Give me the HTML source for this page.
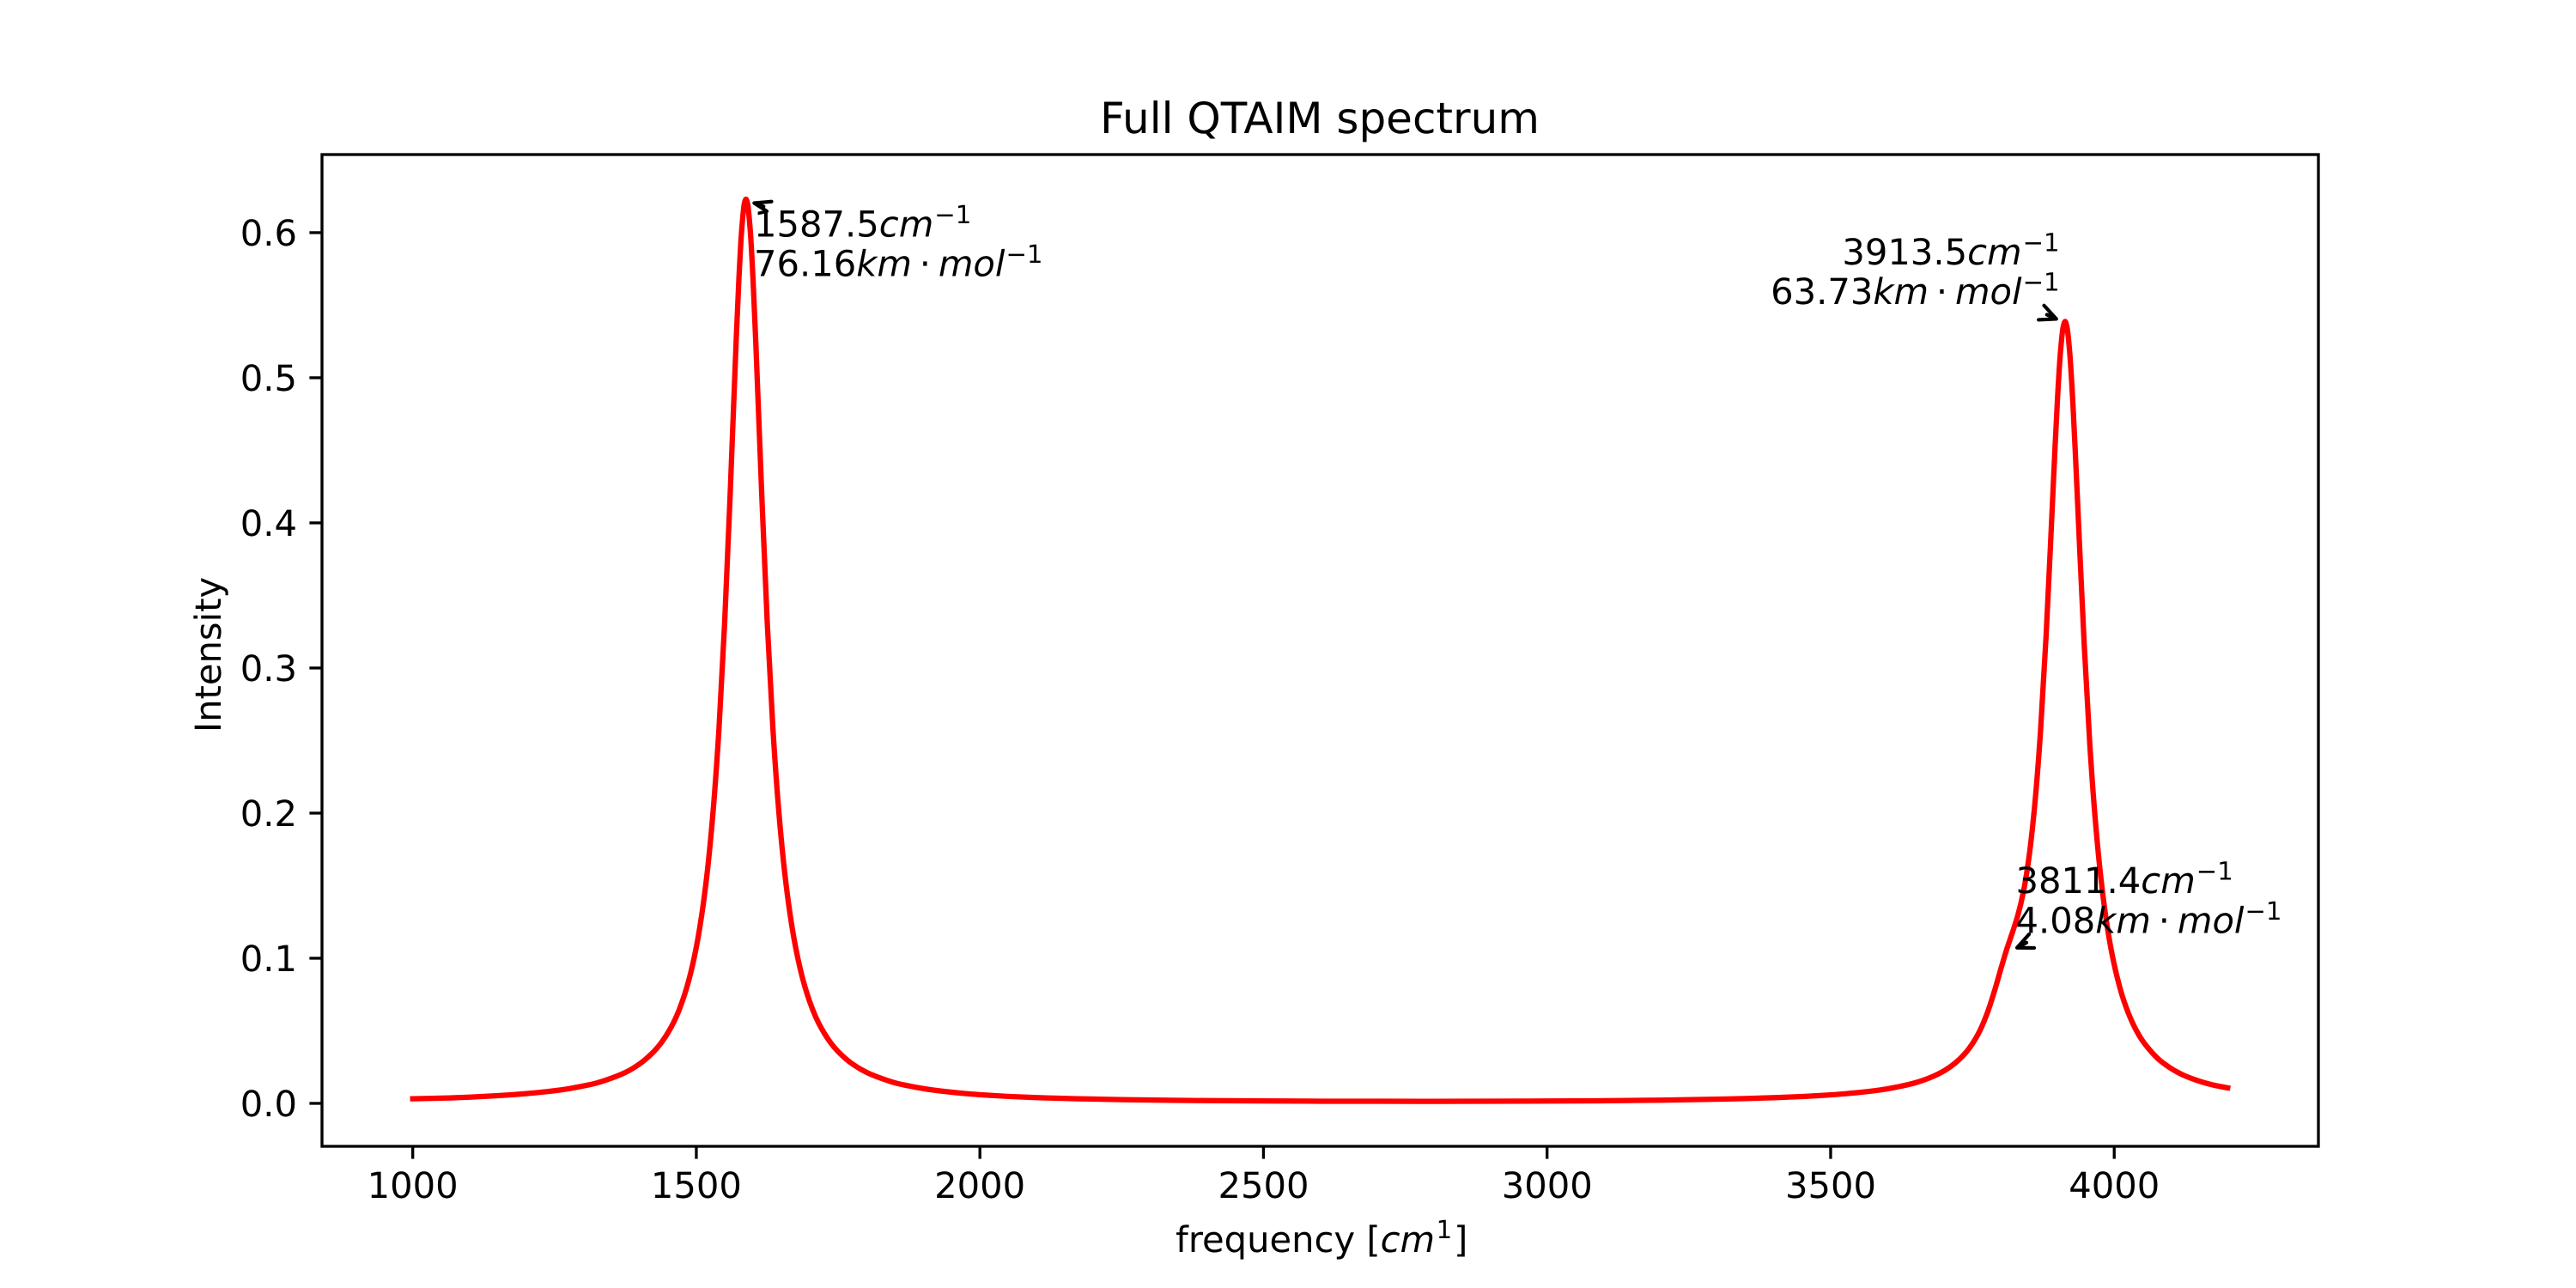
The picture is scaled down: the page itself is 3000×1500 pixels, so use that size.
<!DOCTYPE html>
<html lang="en">
<head>
<meta charset="utf-8">
<title>Full QTAIM spectrum</title>
<style>
  html, body { margin: 0; padding: 0; background: #fff; }
  svg { display: block; }
  text { font-family: "DejaVu Sans", "Liberation Sans", sans-serif; fill: #000; text-rendering: geometricPrecision; }
  .it { font-style: italic; }
</style>
</head>
<body>
<svg id="chart" xmlns="http://www.w3.org/2000/svg" width="3000" height="1500" viewBox="0 0 3000 1500">
  <rect x="0" y="0" width="3000" height="1500" fill="#fff"/>
  <g id="series-layer"></g>
  <rect x="375" y="180" width="2325" height="1155" fill="none" stroke="#000" stroke-width="3.33"/>
  <g id="x-axis"></g>
  <g id="y-axis"></g>
  <g id="annotation-layer"></g>
  <text x="1537" y="155" font-size="50" text-anchor="middle">Full QTAIM spectrum</text>
  <text x="1539.3" y="1458" font-size="41.67" text-anchor="middle">frequency [<tspan class="it">cm</tspan><tspan font-size="29.17" dy="-16" dx="1.5">1</tspan><tspan dy="16" dx="2">]</tspan></text>
  <text transform="translate(257 762.5) rotate(-90)" x="0" y="0" font-size="41.67" text-anchor="middle">Intensity</text>
</svg>
<script>
const frequencies = [1000,1050,1100,1150,1200,1250,1275,1300,1325,1350,1375,1400,1425,1437.5,1450,1460,1470,1480,1490,1500,1510,1520,1530,1540,1550,1560,1570,1575,1580,1585,1587.5,1590,1595,1600,1605,1615,1625,1635,1645,1655,1665,1675,1685,1695,1705,1715,1725,1737.5,1750,1775,1800,1825,1850,1875,1900,1925,2000,2100,2250,2400,2600,2800,3000,3200,3350,3450,3490,3525,3575,3600,3625,3650,3680,3700,3720,3740,3760,3775,3790,3800,3811,3820,3830,3840,3850,3860,3870,3880,3890,3895,3900,3905,3910,3913.5,3917,3922,3927,3932,3937,3947,3957,3967,3977,3987,3997,4010,4017,4025,4032,4040,4050,4060,4070,4080,4090,4100,4112,4125,4150,4175,4200];
const intensities = [0.0032,0.0036,0.0043,0.0053,0.0067,0.0087,0.0101,0.0119,0.0141,0.0173,0.0213,0.0272,0.0357,0.0414,0.0487,0.0558,0.0647,0.0758,0.0898,0.1077,0.1311,0.1619,0.2032,0.2585,0.3316,0.4231,0.5230,0.5676,0.6019,0.6207,0.6230,0.6207,0.6019,0.5676,0.5230,0.4231,0.3316,0.2585,0.2032,0.1619,0.1311,0.1077,0.0898,0.0758,0.0647,0.0558,0.0487,0.0414,0.0357,0.0272,0.0214,0.0174,0.0142,0.0120,0.0102,0.0088,0.0060,0.0040,0.0026,0.0019,0.0015,0.0014,0.0016,0.0022,0.0033,0.0047,0.0056,0.0066,0.0086,0.0100,0.0119,0.0143,0.0185,0.0224,0.0279,0.0358,0.0477,0.0610,0.0789,0.0925,0.1068,0.1172,0.1295,0.1460,0.1705,0.2062,0.2562,0.3230,0.4046,0.4467,0.4857,0.5166,0.5350,0.5388,0.5343,0.5150,0.4833,0.4434,0.4004,0.3167,0.2471,0.1936,0.1535,0.1236,0.1012,0.0797,0.0707,0.0621,0.0557,0.0495,0.0431,0.0380,0.0336,0.0298,0.0268,0.0241,0.0214,0.0189,0.0153,0.0126,0.0107];
const xTickValues = [1000,1500,2000,2500,3000,3500,4000];
const xTickLabels = ["1000","1500","2000","2500","3000","3500","4000"];
const yTickValues = [0,0.1,0.2,0.3,0.4,0.5,0.6];
const yTickLabels = ["0.0","0.1","0.2","0.3","0.4","0.5","0.6"];
const peakFrequencies = [1587.5,3913.5,3811.4];
const peakHeights = [0.623,0.5388,0.107];
const peakFrequencyLabels = ["1587.5","3913.5","3811.4"];
const peakIrLabels = ["76.16","63.73","4.08"];

const SVG_NS = "http://www.w3.org/2000/svg";
const plot = { left: 375, right: 2700, top: 180, bottom: 1335 };
const xDomain = [840, 4360];
const yDomain = [-0.0296, 0.6538];
function xScale(v) { return plot.left + (v - xDomain[0]) / (xDomain[1] - xDomain[0]) * (plot.right - plot.left); }
function yScale(v) { return plot.bottom - (v - yDomain[0]) / (yDomain[1] - yDomain[0]) * (plot.bottom - plot.top); }
function make(tag, attrs) {
  const el = document.createElementNS(SVG_NS, tag);
  for (const k in attrs) el.setAttribute(k, attrs[k]);
  return el;
}

/* shape-preserving cubic path through the pixel-mapped points */
function smoothPath(xs, ys) {
  const n = xs.length;
  const h = [], s = [], m = new Array(n);
  for (let i = 0; i < n - 1; i++) {
    h[i] = xs[i + 1] - xs[i];
    s[i] = (ys[i + 1] - ys[i]) / h[i];
  }
  m[0] = s[0];
  m[n - 1] = s[n - 2];
  for (let i = 1; i < n - 1; i++) {
    if (s[i - 1] * s[i] <= 0) { m[i] = 0; continue; }
    const w1 = 2 * h[i] + h[i - 1];
    const w2 = h[i] + 2 * h[i - 1];
    m[i] = (w1 + w2) / (w1 / s[i - 1] + w2 / s[i]);
  }
  let d = "M" + xs[0].toFixed(2) + " " + ys[0].toFixed(2);
  for (let i = 0; i < n - 1; i++) {
    d += "C" + (xs[i] + h[i] / 3).toFixed(2) + " " + (ys[i] + m[i] * h[i] / 3).toFixed(2) +
      " " + (xs[i + 1] - h[i] / 3).toFixed(2) + " " + (ys[i + 1] - m[i + 1] * h[i] / 3).toFixed(2) +
      " " + xs[i + 1].toFixed(2) + " " + ys[i + 1].toFixed(2);
  }
  return d;
}

const seriesLayer = document.getElementById("series-layer");
const spectrumLine = make("path", { d: smoothPath(frequencies.map(xScale), intensities.map(yScale)), fill: "none", stroke: "#ff0000", "stroke-width": 6.25, "stroke-linecap": "square", "stroke-linejoin": "round" });


seriesLayer.appendChild(spectrumLine);

const xAxis = document.getElementById("x-axis");
xTickValues.forEach((v, i) => {
  const x = xScale(v);
  const tick = make("line", { x1: x, x2: x, y1: plot.bottom, y2: plot.bottom + 14.6, stroke: "#000", "stroke-width": 3.33 });
  
  
  xAxis.appendChild(tick);
  const label = make("text", { x: x, y: 1395, "font-size": 41.67, "text-anchor": "middle" });
  
  
  label.textContent = xTickLabels[i];
  xAxis.appendChild(label);
});

const yAxis = document.getElementById("y-axis");
yTickValues.forEach((v, i) => {
  const y = yScale(v);
  const tick = make("line", { x1: plot.left - 14.6, x2: plot.left, y1: y, y2: y, stroke: "#000", "stroke-width": 3.33 });
  
  
  yAxis.appendChild(tick);
  const label = make("text", { x: 346, y: y + 15, "font-size": 41.67, "text-anchor": "end" });
  
  
  label.textContent = yTickLabels[i];
  yAxis.appendChild(label);
});

/* annotation layout, in pixels relative to each annotated peak */
const annotationLayout = [
  { anchor: "start", tx: 9.3, ty1: 43.4, ty2: 89.4, tip: [9.6, 4.4], barbA: [20.2, -1.7], barbB: [14.7, 9.5], shaft: [11, 4] },
  { anchor: "end", tx: -6.5, ty1: -66.6, ty2: -20.6, tip: [-10.3, -2.9], barbA: [-14.3, -15.7], barbB: [-20.7, 1], shaft: [-11, -5] },
  { anchor: "start", tx: 9.9, ty1: -64.2, ty2: -17.7, tip: [11.4, -0.4], barbA: [14, -15.7], barbB: [20, 0.2], shaft: [11, -6] }
];

function appendSpan(parent, text, attrs) {
  const span = make("tspan", attrs);
  span.textContent = text;
  parent.appendChild(span);
}

const annotationLayer = document.getElementById("annotation-layer");
peakFrequencies.forEach((f, i) => {
  const px = xScale(f);
  const py = yScale(peakHeights[i]);
  const lay = annotationLayout[i];

  const line1 = make("text", { x: px + lay.tx, y: py + lay.ty1, "font-size": 41.67, "text-anchor": lay.anchor });
  
  
  appendSpan(line1, peakFrequencyLabels[i], {});
  appendSpan(line1, "cm", { class: "it" });
  appendSpan(line1, "\u22121", { "font-size": 29.17, dy: -15.5, dx: 1 });
  annotationLayer.appendChild(line1);

  const line2 = make("text", { x: px + lay.tx, y: py + lay.ty2, "font-size": 41.67, "text-anchor": lay.anchor });
  
  
  appendSpan(line2, peakIrLabels[i], {});
  appendSpan(line2, "km", { class: "it" });
  appendSpan(line2, "\u00b7", { dx: 8.8 });
  appendSpan(line2, "mol", { class: "it", dx: 8.8 });
  appendSpan(line2, "\u22121", { "font-size": 29.17, dy: -15.5, dx: 1 });
  annotationLayer.appendChild(line2);

  const tipX = px + lay.tip[0];
  const tipY = py + lay.tip[1];
  const d = "M" + (tipX + lay.barbA[0]) + " " + (tipY + lay.barbA[1]) +
    "L" + tipX + " " + tipY +
    "L" + (tipX + lay.barbB[0]) + " " + (tipY + lay.barbB[1]) +
    "M" + tipX + " " + tipY +
    "L" + (tipX + lay.shaft[0]) + " " + (tipY + lay.shaft[1]);
  const arrow = make("path", { d: d, fill: "none", stroke: "#000", "stroke-width": 4.17, "stroke-linecap": "round", "stroke-linejoin": "round" });
  
  
  annotationLayer.appendChild(arrow);
});
</script>
</body>
</html>
